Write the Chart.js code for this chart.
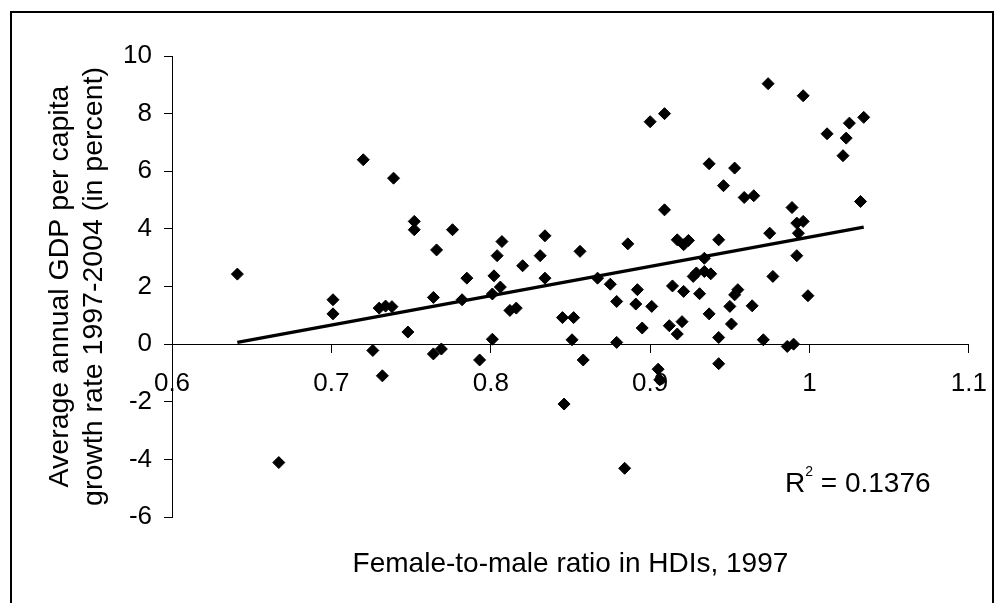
<!DOCTYPE html>
<html>
<head>
<meta charset="utf-8">
<title>Female-to-male HDI ratio vs GDP growth</title>
<script src="https://cdn.jsdelivr.net/npm/chart.js@4.4.1/dist/chart.umd.min.js"></script>
<style>
  html, body { margin: 0; padding: 0; background: #fff; }
  #wrap { position: relative; width: 1003px; height: 603px; }
</style>
</head>
<body>
<div id="wrap"><canvas id="grafico" width="1003" height="603"></canvas></div>
<script>
// Female-to-male ratio in HDIs, 1997 (x) and GDP per capita growth 1997-2004 (y)
const ratioHDI = [
  0.641, 0.720, 0.739, 0.752, 0.752, 0.766, 0.701, 0.701, 0.730, 0.734,
  0.738, 0.764, 0.748, 0.726, 0.732, 0.764, 0.769, 0.667, 0.776, 0.785,
  0.782, 0.793, 0.801, 0.801, 0.802, 0.804, 0.807, 0.806, 0.812, 0.816,
  0.820, 0.831, 0.834, 0.834, 0.845, 0.852, 0.851, 0.858, 0.856, 0.867,
  0.875, 0.879, 0.879, 0.886, 0.892, 0.891, 0.895, 0.901, 0.909, 0.905,
  0.906, 0.974, 0.996, 0.900, 0.909, 0.937, 0.953, 0.946, 0.959, 0.965,
  0.989, 0.992, 0.996, 0.993, 0.975, 0.917, 0.921, 0.924, 0.943, 0.934,
  0.992, 0.927, 0.929, 0.934, 0.938, 0.977, 0.914, 0.921, 0.931, 0.955,
  0.953, 0.999, 0.950, 0.964, 0.937, 0.951, 0.912, 0.920, 0.917, 0.943,
  0.971, 0.986, 0.990, 0.943, 1.011, 1.025, 1.034, 1.023, 1.021, 1.032,
  0.846, 0.884
];
const crescimentoPIB = [
  2.43, 6.40, 5.76, 4.26, 3.97, 3.27, 1.54, 1.05, 1.25, 1.32,
  1.30, 1.62, 0.42, -0.22, -1.10, -0.34, -0.17, -4.11, 3.97, 2.29,
  1.54, -0.55, 0.17, 1.74, 2.37, 3.07, 3.56, 1.98, 1.17, 1.25,
  2.72, 3.07, 3.76, 2.29, 0.92, 0.92, 0.15, -0.55, 3.22, 2.29,
  2.08, 1.48, 0.06, 3.48, 1.89, 1.39, 0.56, 1.31, 4.66, -0.87,
  -1.24, 9.04, 8.62, 7.72, 8.00, 6.26, 6.11, 5.50, 5.09, 5.15,
  4.74, 4.20, 4.26, 3.85, 3.85, 3.62, 3.45, 3.60, 3.62, 2.98,
  3.07, 2.35, 2.47, 2.52, 2.44, 2.35, 2.02, 1.83, 1.75, 1.89,
  1.71, 1.68, 1.31, 1.33, 1.05, 0.70, 0.64, 0.78, 0.35, 0.23,
  0.15, -0.08, 0.00, -0.68, 7.30, 7.67, 7.87, 7.15, 6.54, 4.95,
  -2.08, -4.31
];

// linear trend line (end points)
const tendenciaX = [0.641, 1.034];
const tendenciaY = [0.06, 4.06];

const xTickLabels = ['0.6', '0.7', '0.8', '0.9', '1', '1.1'];
const yTickLabels = ['-6', '-4', '-2', '0', '2', '4', '6', '8', '10'];
const textoR2 = '0.1376';

const fonte = "'Liberation Sans', Arial, sans-serif";

const pontos = ratioHDI.map(function (x, i) { return { x: x, y: crescimentoPIB[i] }; });
const linhaTendencia = tendenciaX.map(function (x, i) { return { x: x, y: tendenciaY[i] }; });

// moldura exterior + etiqueta R²
const extras = {
  id: 'extras',
  beforeDraw: function (chart) {
    const ctx = chart.ctx;
    ctx.save();
    ctx.fillStyle = '#fff';
    ctx.fillRect(0, 0, chart.width, chart.height);
    ctx.strokeStyle = '#000';
    ctx.lineWidth = 2;
    ctx.strokeRect(11, 12, 982, 600);
    ctx.restore();
  },
  afterDraw: function (chart) {
    const ctx = chart.ctx;
    const x0 = 785, base = 492;
    ctx.save();
    ctx.fillStyle = '#000';
    ctx.textBaseline = 'alphabetic';
    ctx.textAlign = 'left';
    ctx.font = '28px ' + fonte;
    ctx.fillText('R', x0, base);
    let x = x0 + ctx.measureText('R').width;
    ctx.font = '14px ' + fonte;
    ctx.fillText('2', x, base - 16);
    x += ctx.measureText('2').width;
    ctx.font = '28px ' + fonte;
    ctx.fillText(' = ' + textoR2, x, base);
    ctx.restore();
  }
};

document.addEventListener("DOMContentLoaded", function () {
  const ctxGrafico = document.getElementById('grafico');
  new Chart(ctxGrafico.getContext('2d'), {
    type: 'scatter',
    data: {
      datasets: [{
        label: 'Países',
        data: pontos,
        pointStyle: 'rectRot',
        pointRadius: 6,
        pointBackgroundColor: '#000',
        pointBorderColor: '#000',
        pointBorderWidth: 1,
        order: 2
      }, {
        label: 'Tendência',
        data: linhaTendencia,
        showLine: true,
        borderColor: '#000',
        borderWidth: 3.5,
        pointRadius: 0,
        order: 1
      }]
    },
    options: {
      responsive: false,
      animation: false,
      devicePixelRatio: 1,
      layout: { padding: { left: 0, top: 56, right: 31, bottom: 0 } },
      plugins: {
        legend: { display: false },
        tooltip: { enabled: false },
        title: {
          display: true,
          position: 'bottom',
          fullSize: false,
          text: 'Female-to-male ratio in HDIs, 1997',
          color: '#000',
          font: { family: fonte, size: 28, weight: 'normal', lineHeight: 1.2 },
          padding: { top: 30.5, bottom: 21.9 }
        }
      },
      scales: {
        x: {
          type: 'linear',
          position: { y: 0 },
          min: 0.6,
          max: 1.1,
          afterFit: function (scale) { scale.height = 0; },
          afterBuildTicks: function (scale) {
            scale.ticks = xTickLabels.map(function (t) { return { value: parseFloat(t) }; });
          },
          ticks: {
            color: '#000',
            padding: 16,
            maxRotation: 0,
            autoSkip: false,
            font: { family: fonte, size: 26 },
            callback: function (value, index) { return xTickLabels[index]; }
          },
          grid: { drawOnChartArea: false, tickLength: 8, color: '#000', tickWidth: 1 },
          border: { color: '#000', width: 1 }
        },
        y: {
          type: 'linear',
          position: 'left',
          min: -6,
          max: 10,
          afterFit: function (scale) { scale.width = 172; },
          afterBuildTicks: function (scale) {
            scale.ticks = yTickLabels.map(function (t) { return { value: parseFloat(t) }; });
          },
          ticks: {
            color: '#000',
            padding: 12,
            autoSkip: false,
            font: { family: fonte, size: 26 },
            callback: function (value, index) { return yTickLabels[index]; }
          },
          grid: { drawOnChartArea: false, tickLength: 8, color: '#000', tickWidth: 1 },
          border: { color: '#000', width: 1 },
          title: {
            display: true,
            text: ['Average annual GDP per capita', 'growth rate 1997-2004 (in percent)'],
            color: '#000',
            font: { family: fonte, size: 28.5, lineHeight: 1.2 },
            padding: { top: 43, bottom: 0 }
          }
        }
      }
    },
    plugins: [extras]
  });
});
</script>
</body>
</html>
